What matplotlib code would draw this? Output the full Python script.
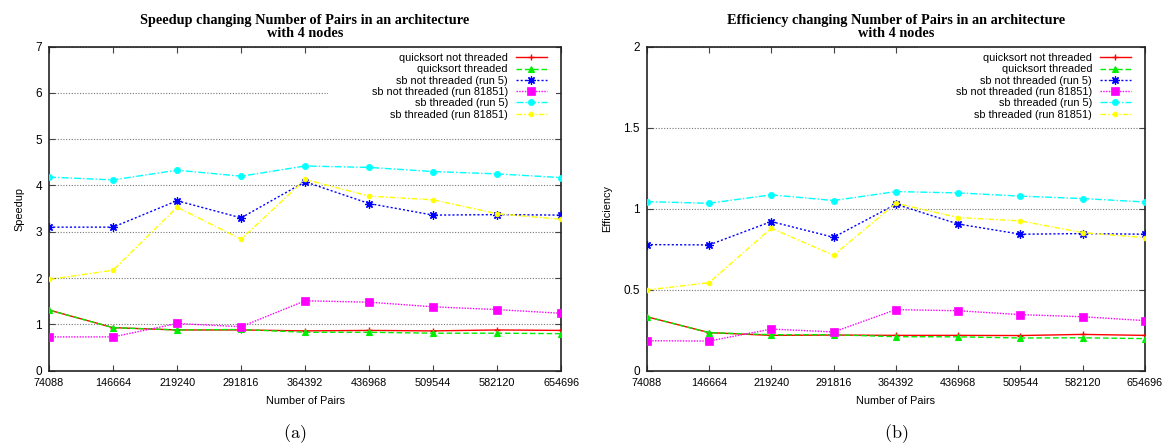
import matplotlib
matplotlib.use("Agg")
import matplotlib.pyplot as plt
from matplotlib.patches import Rectangle

plt.rcParams["font.family"] = ["Liberation Sans", "DejaVu Sans"]
plt.rcParams["mathtext.fontset"] = "cm"

# Data
pairs = [74088, 146664, 219240, 291816, 364392, 436968, 509544, 582120, 654696]

labels = [
    "quicksort not threaded",
    "quicksort threaded",
    "sb not threaded (run 5)",
    "sb not threaded (run 81851)",
    "sb threaded (run 5)",
    "sb threaded (run 81851)",
]

# Speedup
sp_qs_nt = [1.31, 0.93, 0.88, 0.88, 0.86, 0.87, 0.86, 0.88, 0.87]
sp_qs_t = [1.31, 0.93, 0.88, 0.89, 0.83, 0.83, 0.81, 0.81, 0.80]
sp_sb_nt5 = [3.10, 3.10, 3.67, 3.30, 4.08, 3.61, 3.36, 3.37, 3.36]
sp_sb_nt81851 = [0.73, 0.73, 1.02, 0.95, 1.51, 1.48, 1.38, 1.32, 1.24]
sp_sb_t5 = [4.18, 4.12, 4.33, 4.20, 4.42, 4.39, 4.30, 4.25, 4.17]
sp_sb_t81851 = [1.97, 2.17, 3.53, 2.84, 4.13, 3.77, 3.69, 3.39, 3.27]

# Efficiency
ef_qs_nt = [0.333, 0.235, 0.218, 0.220, 0.218, 0.218, 0.217, 0.224, 0.218]
ef_qs_t = [0.333, 0.235, 0.222, 0.222, 0.210, 0.209, 0.202, 0.203, 0.198]
ef_sb_nt5 = [0.778, 0.776, 0.920, 0.823, 1.027, 0.905, 0.842, 0.846, 0.842]
ef_sb_nt81851 = [0.185, 0.183, 0.257, 0.239, 0.377, 0.370, 0.346, 0.333, 0.309]
ef_sb_t5 = [1.043, 1.033, 1.085, 1.050, 1.105, 1.097, 1.077, 1.062, 1.041]
ef_sb_t81851 = [0.498, 0.543, 0.879, 0.712, 1.033, 0.945, 0.924, 0.852, 0.821]

speedup = [sp_qs_nt, sp_qs_t, sp_sb_nt5, sp_sb_nt81851, sp_sb_t5, sp_sb_t81851]
efficiency = [ef_qs_nt, ef_qs_t, ef_sb_nt5, ef_sb_nt81851, ef_sb_t5, ef_sb_t81851]

# line styles (gnuplot look)
styles = [
    dict(color="#ff0000", ls="-", marker="+", ms=5, mew=1.0),
    dict(color="#00ee00", ls=(0, (4, 2)), marker="^", ms=5, mew=0.8),
    dict(color="#0000ff", ls=(0, (1.5, 1.5)), marker=(8, 2, 0), ms=6, mew=0.9),
    dict(color="#ff00ff", ls=(0, (1, 1)), marker="s", ms=5.5, mew=0.5),
    dict(color="#00ffff", ls=(0, (5, 1.5, 1, 1.5)), marker="o", ms=4.5, mew=0.5),
    dict(color="#ffff00", ls=(0, (4, 1.5, 1, 1.5)), marker="o", ms=3.5, mew=0.5),
]

fs = 7.8

fig = plt.figure(figsize=(11.68, 4.46), dpi=100)
ax1 = fig.add_axes([0.0420, 0.1688, 0.4384, 0.7269])
ax2 = fig.add_axes([0.5537, 0.1688, 0.4266, 0.7269])


def panel(ax, series, title, ylabel, ymax, yticks, yticklabels):
    for vals, lab, st in zip(series, labels, styles):
        ax.plot(pairs, vals, label=lab, color=st["color"], linestyle=st["ls"],
                marker=st["marker"], markersize=st["ms"], markeredgewidth=st["mew"],
                linewidth=1.0, zorder=3)
    ax.set_xlim(pairs[0], pairs[-1])
    ax.set_ylim(0, ymax)
    ax.set_xticks(pairs)
    ax.set_xticklabels([str(p) for p in pairs], fontsize=fs)
    ax.set_yticks(yticks)
    ax.set_yticklabels(yticklabels, fontsize=fs + 0.7)
    ax.tick_params(direction="in", length=4, width=0.8, top=True, right=True,
                   color="#444444")
    ax.tick_params(axis="x", pad=5)
    ax.tick_params(axis="y", pad=5)
    ax.set_axisbelow(True)
    ax.yaxis.grid(True, linestyle=(0, (1, 1.5)), color="#777777", linewidth=0.8)
    for s in ax.spines.values():
        s.set_linewidth(1.2)
        s.set_color("#222222")
    ax.set_xlabel("Number of Pairs", fontsize=fs, labelpad=6)
    ax.set_ylabel(ylabel, fontsize=fs, labelpad=8)
    ax.set_title(title, fontsize=10.3, fontweight="bold", family="Liberation Serif",
                 pad=7, linespacing=1.0)
    # white key background hiding the grid behind it
    ax.add_patch(Rectangle((0.545, 0.775), 0.445, 0.225, transform=ax.transAxes,
                           facecolor="white", edgecolor="none", zorder=1))
    leg = ax.legend(loc="upper right", bbox_to_anchor=(0.985, 1.0), frameon=False,
                    markerfirst=False, fontsize=fs, numpoints=1, handlelength=2.9,
                    handletextpad=0.7, labelspacing=0.12, borderaxespad=0.2,
                    borderpad=0.4)
    for col in leg._legend_handle_box.get_children():
        col.align = "right"
    return leg


panel(ax1, speedup,
      "Speedup changing Number of Pairs in an architecture\nwith 4 nodes",
      "Speedup", 7, [0, 1, 2, 3, 4, 5, 6, 7], ["0", "1", "2", "3", "4", "5", "6", "7"])
panel(ax2, efficiency,
      "Efficiency changing Number of Pairs in an architecture\nwith 4 nodes",
      "Efficiency", 2, [0, 0.5, 1, 1.5, 2], ["0", "0.5", "1", "1.5", "2"])

fig.text(0.252, 0.028, r"$\mathrm{(a)}$", ha="center", va="center", fontsize=13)
fig.text(0.767, 0.028, r"$\mathrm{(b)}$", ha="center", va="center", fontsize=13)

fig.savefig("out.png", dpi=100)
